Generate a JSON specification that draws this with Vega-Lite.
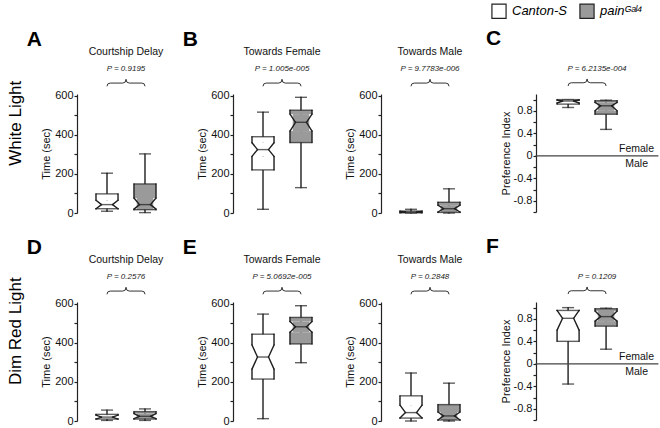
{
"$schema":"https://vega.github.io/schema/vega-lite/v6.json",
"padding":{"left":6,"top":3,"right":0,"bottom":0},
"datasets":{
"A":[{"g":"Canton-S","wlo":9,"q1":22,"nlo":22,"med":43,"nhi":65,"q3":98,"whi":204},{"g":"painᴳᵃˡ⁴","wlo":2,"q1":17,"nlo":20,"med":43,"nhi":77,"q3":149,"whi":303}],
"B1":[{"g":"Canton-S","wlo":19,"q1":221,"nlo":290,"med":325,"nhi":360,"q3":391,"whi":517},{"g":"painᴳᵃˡ⁴","wlo":130,"q1":361,"nlo":420,"med":465,"nhi":507,"q3":527,"whi":593}],
"B2":[{"g":"Canton-S","wlo":0,"q1":1,"nlo":2,"med":5,"nhi":8,"q3":10,"whi":19},{"g":"painᴳᵃˡ⁴","wlo":0,"q1":3,"nlo":5,"med":22,"nhi":40,"q3":55,"whi":124}],
"C":[{"g":"Canton-S","wlo":0.86,"q1":0.92,"nlo":0.94,"med":0.975,"nhi":0.99,"q3":1.0,"whi":1.0},{"g":"painᴳᵃˡ⁴","wlo":0.47,"q1":0.74,"nlo":0.8,"med":0.89,"nhi":0.95,"q3":0.98,"whi":0.99}],
"D":[{"g":"Canton-S","wlo":3,"q1":10,"nlo":10,"med":20,"nhi":30,"q3":34,"whi":56},{"g":"painᴳᵃˡ⁴","wlo":3,"q1":10,"nlo":12,"med":24,"nhi":38,"q3":48,"whi":62}],
"E1":[{"g":"Canton-S","wlo":12,"q1":215,"nlo":266,"med":328,"nhi":390,"q3":445,"whi":548},{"g":"painᴳᵃˡ⁴","wlo":299,"q1":395,"nlo":455,"med":483,"nhi":510,"q3":531,"whi":591}],
"E2":[{"g":"Canton-S","wlo":0,"q1":15,"nlo":15,"med":43,"nhi":81,"q3":129,"whi":246},{"g":"painᴳᵃˡ⁴","wlo":0,"q1":5,"nlo":5,"med":26,"nhi":46,"q3":84,"whi":194}],
"F":[{"g":"Canton-S","wlo":-0.36,"q1":0.4,"nlo":0.6,"med":0.81,"nhi":0.95,"q3":0.95,"whi":1.0},{"g":"painᴳᵃˡ⁴","wlo":0.26,"q1":0.67,"nlo":0.76,"med":0.84,"nhi":0.94,"q3":0.98,"whi":0.99}]
},
"vconcat":[
{"title":{"text":"White  Light","orient":"left","anchor":"middle","frame":"bounds","fontSize":17,"fontWeight":"normal","offset":2,"color":"#000"},
"spacing":7,
"hconcat":[
{"title":{"text":"A","anchor":"start","frame":"bounds","dx":-14,"fontSize":21,"fontWeight":"bold","offset":-3,"color":"#000"},
"hconcat":[
{"title":{"text":"Courtship Delay","subtitle":"P = 0.9195"},"width":98,"height":119,"data":{"name":"A"},
"resolve":{"axis":{"y":"independent"}},
"layer":[
{"encoding":{"x":{"field":"g","type":"nominal","scale":{"paddingInner":0.42,"paddingOuter":0.5},"axis":{"title":null,"labels":false,"ticks":false}}},
"layer":[
{"mark":"rule","encoding":{"y":{"field":"wlo","type":"quantitative","scale":{"domain":[0,610],"nice":false},"axis":{"title":"Time (sec)","values":[0,200,400,600],"tickCount":20,"labelOverlap":false}},"y2":{"field":"whi"}}},
{"mark":{"type":"tick","size":12},"encoding":{"y":{"field":"whi","type":"quantitative"}}},
{"mark":{"type":"tick","size":12},"encoding":{"y":{"field":"wlo","type":"quantitative"}}},
{"mark":"bar","encoding":{"y":{"field":"nhi","type":"quantitative"},"y2":{"field":"q3"},"fill":{"field":"g","type":"nominal","scale":{"range":["#ffffff","#9a9a9a"]},"legend":{"title":null}}}},
{"mark":"bar","encoding":{"y":{"field":"q1","type":"quantitative"},"y2":{"field":"nlo"},"fill":{"field":"g","type":"nominal","scale":{"range":["#ffffff","#9a9a9a"]},"legend":{"title":null}}}},
{"mark":{"type":"bar","width":{"band":0.75}},"encoding":{"y":{"field":"nlo","type":"quantitative"},"y2":{"field":"nhi"},"fill":{"field":"g","type":"nominal","scale":{"range":["#ffffff","#9a9a9a"]},"legend":{"title":null}}}},
{"mark":{"type":"tick","size":23},"encoding":{"y":{"field":"q3","type":"quantitative"}}},
{"mark":{"type":"tick","size":23},"encoding":{"y":{"field":"q1","type":"quantitative"}}},
{"mark":{"type":"tick","size":11},"encoding":{"y":{"field":"med","type":"quantitative"}}},
{"mark":"rule","encoding":{"x":{"field":"g","type":"nominal","bandPosition":0,"axis":null},"y":{"field":"q3","type":"quantitative"},"y2":{"field":"nhi"}}},
{"mark":"rule","encoding":{"x":{"field":"g","type":"nominal","bandPosition":1,"axis":null},"y":{"field":"q3","type":"quantitative"},"y2":{"field":"nhi"}}},
{"mark":"rule","encoding":{"x":{"field":"g","type":"nominal","bandPosition":0,"axis":null},"y":{"field":"nlo","type":"quantitative"},"y2":{"field":"q1"}}},
{"mark":"rule","encoding":{"x":{"field":"g","type":"nominal","bandPosition":1,"axis":null},"y":{"field":"nlo","type":"quantitative"},"y2":{"field":"q1"}}},
{"mark":"rule","encoding":{"x":{"field":"g","type":"nominal","bandPosition":0,"axis":null},"x2":{"field":"g","bandPosition":0.25},"y":{"field":"nhi","type":"quantitative"},"y2":{"field":"med"}}},
{"mark":"rule","encoding":{"x":{"field":"g","type":"nominal","bandPosition":0,"axis":null},"x2":{"field":"g","bandPosition":0.25},"y":{"field":"nlo","type":"quantitative"},"y2":{"field":"med"}}},
{"mark":"rule","encoding":{"x":{"field":"g","type":"nominal","bandPosition":1,"axis":null},"x2":{"field":"g","bandPosition":0.75},"y":{"field":"nhi","type":"quantitative"},"y2":{"field":"med"}}},
{"mark":"rule","encoding":{"x":{"field":"g","type":"nominal","bandPosition":1,"axis":null},"x2":{"field":"g","bandPosition":0.75},"y":{"field":"nlo","type":"quantitative"},"y2":{"field":"med"}}},
{"transform":[{"filter":"datum.g == 'Canton-S'"}],"mark":{"type":"point","shape":"M0,0.17 Q0,0 0.17,0 L0.83,0 Q1,0 1,-0.2 Q1,0 1.17,0 L1.83,0 Q2,0 2,0.17","size":1444,"filled":false,"color":"#333","strokeWidth":1,"opacity":1},"encoding":{"y":{"datum":666}}}
]},
{"transform":[{"filter":"datum.g == 'Canton-S'"}],"mark":{"type":"rule","opacity":0},"encoding":{"y":{"datum":0,"type":"quantitative","axis":{"orient":"left","values":[100,300,500],"tickCount":20,"labels":false,"domain":false,"title":null}}}}
]}
]},
{"title":{"text":"B","anchor":"start","frame":"bounds","dx":-14,"fontSize":21,"fontWeight":"bold","offset":-3,"color":"#000"},"spacing":13,
"hconcat":[
{"title":{"text":"Towards Female","subtitle":"P = 1.005e-005"},"width":98,"height":119,"data":{"name":"B1"},
"resolve":{"axis":{"y":"independent"}},
"layer":[
{"encoding":{"x":{"field":"g","type":"nominal","scale":{"paddingInner":0.42,"paddingOuter":0.5},"axis":{"title":null,"labels":false,"ticks":false}}},
"layer":[
{"mark":"rule","encoding":{"y":{"field":"wlo","type":"quantitative","scale":{"domain":[0,610],"nice":false},"axis":{"title":"Time (sec)","values":[0,200,400,600],"tickCount":20,"labelOverlap":false}},"y2":{"field":"whi"}}},
{"mark":{"type":"tick","size":12},"encoding":{"y":{"field":"whi","type":"quantitative"}}},
{"mark":{"type":"tick","size":12},"encoding":{"y":{"field":"wlo","type":"quantitative"}}},
{"mark":"bar","encoding":{"y":{"field":"nhi","type":"quantitative"},"y2":{"field":"q3"},"fill":{"field":"g","type":"nominal","scale":{"range":["#ffffff","#9a9a9a"]},"legend":{"title":null}}}},
{"mark":"bar","encoding":{"y":{"field":"q1","type":"quantitative"},"y2":{"field":"nlo"},"fill":{"field":"g","type":"nominal","scale":{"range":["#ffffff","#9a9a9a"]},"legend":{"title":null}}}},
{"mark":{"type":"bar","width":{"band":0.75}},"encoding":{"y":{"field":"nlo","type":"quantitative"},"y2":{"field":"nhi"},"fill":{"field":"g","type":"nominal","scale":{"range":["#ffffff","#9a9a9a"]},"legend":{"title":null}}}},
{"mark":{"type":"tick","size":23},"encoding":{"y":{"field":"q3","type":"quantitative"}}},
{"mark":{"type":"tick","size":23},"encoding":{"y":{"field":"q1","type":"quantitative"}}},
{"mark":{"type":"tick","size":11},"encoding":{"y":{"field":"med","type":"quantitative"}}},
{"mark":"rule","encoding":{"x":{"field":"g","type":"nominal","bandPosition":0,"axis":null},"y":{"field":"q3","type":"quantitative"},"y2":{"field":"nhi"}}},
{"mark":"rule","encoding":{"x":{"field":"g","type":"nominal","bandPosition":1,"axis":null},"y":{"field":"q3","type":"quantitative"},"y2":{"field":"nhi"}}},
{"mark":"rule","encoding":{"x":{"field":"g","type":"nominal","bandPosition":0,"axis":null},"y":{"field":"nlo","type":"quantitative"},"y2":{"field":"q1"}}},
{"mark":"rule","encoding":{"x":{"field":"g","type":"nominal","bandPosition":1,"axis":null},"y":{"field":"nlo","type":"quantitative"},"y2":{"field":"q1"}}},
{"mark":"rule","encoding":{"x":{"field":"g","type":"nominal","bandPosition":0,"axis":null},"x2":{"field":"g","bandPosition":0.25},"y":{"field":"nhi","type":"quantitative"},"y2":{"field":"med"}}},
{"mark":"rule","encoding":{"x":{"field":"g","type":"nominal","bandPosition":0,"axis":null},"x2":{"field":"g","bandPosition":0.25},"y":{"field":"nlo","type":"quantitative"},"y2":{"field":"med"}}},
{"mark":"rule","encoding":{"x":{"field":"g","type":"nominal","bandPosition":1,"axis":null},"x2":{"field":"g","bandPosition":0.75},"y":{"field":"nhi","type":"quantitative"},"y2":{"field":"med"}}},
{"mark":"rule","encoding":{"x":{"field":"g","type":"nominal","bandPosition":1,"axis":null},"x2":{"field":"g","bandPosition":0.75},"y":{"field":"nlo","type":"quantitative"},"y2":{"field":"med"}}},
{"transform":[{"filter":"datum.g == 'Canton-S'"}],"mark":{"type":"point","shape":"M0,0.17 Q0,0 0.17,0 L0.83,0 Q1,0 1,-0.2 Q1,0 1.17,0 L1.83,0 Q2,0 2,0.17","size":1444,"filled":false,"color":"#333","strokeWidth":1,"opacity":1},"encoding":{"y":{"datum":666}}}
]},
{"transform":[{"filter":"datum.g == 'Canton-S'"}],"mark":{"type":"rule","opacity":0},"encoding":{"y":{"datum":0,"type":"quantitative","axis":{"orient":"left","values":[100,300,500],"tickCount":20,"labels":false,"domain":false,"title":null}}}}
]},
{"title":{"text":"Towards Male","subtitle":"P = 9.7783e-006"},"width":98,"height":119,"data":{"name":"B2"},
"resolve":{"axis":{"y":"independent"}},
"layer":[
{"encoding":{"x":{"field":"g","type":"nominal","scale":{"paddingInner":0.42,"paddingOuter":0.5},"axis":{"title":null,"labels":false,"ticks":false}}},
"layer":[
{"mark":"rule","encoding":{"y":{"field":"wlo","type":"quantitative","scale":{"domain":[0,610],"nice":false},"axis":{"title":"Time (sec)","values":[0,200,400,600],"tickCount":20,"labelOverlap":false}},"y2":{"field":"whi"}}},
{"mark":{"type":"tick","size":12},"encoding":{"y":{"field":"whi","type":"quantitative"}}},
{"mark":{"type":"tick","size":12},"encoding":{"y":{"field":"wlo","type":"quantitative"}}},
{"mark":"bar","encoding":{"y":{"field":"nhi","type":"quantitative"},"y2":{"field":"q3"},"fill":{"field":"g","type":"nominal","scale":{"range":["#ffffff","#9a9a9a"]},"legend":{"title":null}}}},
{"mark":"bar","encoding":{"y":{"field":"q1","type":"quantitative"},"y2":{"field":"nlo"},"fill":{"field":"g","type":"nominal","scale":{"range":["#ffffff","#9a9a9a"]},"legend":{"title":null}}}},
{"mark":{"type":"bar","width":{"band":0.75}},"encoding":{"y":{"field":"nlo","type":"quantitative"},"y2":{"field":"nhi"},"fill":{"field":"g","type":"nominal","scale":{"range":["#ffffff","#9a9a9a"]},"legend":{"title":null}}}},
{"mark":{"type":"tick","size":23},"encoding":{"y":{"field":"q3","type":"quantitative"}}},
{"mark":{"type":"tick","size":23},"encoding":{"y":{"field":"q1","type":"quantitative"}}},
{"mark":{"type":"tick","size":11},"encoding":{"y":{"field":"med","type":"quantitative"}}},
{"mark":"rule","encoding":{"x":{"field":"g","type":"nominal","bandPosition":0,"axis":null},"y":{"field":"q3","type":"quantitative"},"y2":{"field":"nhi"}}},
{"mark":"rule","encoding":{"x":{"field":"g","type":"nominal","bandPosition":1,"axis":null},"y":{"field":"q3","type":"quantitative"},"y2":{"field":"nhi"}}},
{"mark":"rule","encoding":{"x":{"field":"g","type":"nominal","bandPosition":0,"axis":null},"y":{"field":"nlo","type":"quantitative"},"y2":{"field":"q1"}}},
{"mark":"rule","encoding":{"x":{"field":"g","type":"nominal","bandPosition":1,"axis":null},"y":{"field":"nlo","type":"quantitative"},"y2":{"field":"q1"}}},
{"mark":"rule","encoding":{"x":{"field":"g","type":"nominal","bandPosition":0,"axis":null},"x2":{"field":"g","bandPosition":0.25},"y":{"field":"nhi","type":"quantitative"},"y2":{"field":"med"}}},
{"mark":"rule","encoding":{"x":{"field":"g","type":"nominal","bandPosition":0,"axis":null},"x2":{"field":"g","bandPosition":0.25},"y":{"field":"nlo","type":"quantitative"},"y2":{"field":"med"}}},
{"mark":"rule","encoding":{"x":{"field":"g","type":"nominal","bandPosition":1,"axis":null},"x2":{"field":"g","bandPosition":0.75},"y":{"field":"nhi","type":"quantitative"},"y2":{"field":"med"}}},
{"mark":"rule","encoding":{"x":{"field":"g","type":"nominal","bandPosition":1,"axis":null},"x2":{"field":"g","bandPosition":0.75},"y":{"field":"nlo","type":"quantitative"},"y2":{"field":"med"}}},
{"transform":[{"filter":"datum.g == 'Canton-S'"}],"mark":{"type":"point","shape":"M0,0.17 Q0,0 0.17,0 L0.83,0 Q1,0 1,-0.2 Q1,0 1.17,0 L1.83,0 Q2,0 2,0.17","size":1444,"filled":false,"color":"#333","strokeWidth":1,"opacity":1},"encoding":{"y":{"datum":666}}}
]},
{"transform":[{"filter":"datum.g == 'Canton-S'"}],"mark":{"type":"rule","opacity":0},"encoding":{"y":{"datum":0,"type":"quantitative","axis":{"orient":"left","values":[100,300,500],"tickCount":20,"labels":false,"domain":false,"title":null}}}}
]}
]},
{"title":{"text":"C","anchor":"start","frame":"bounds","dx":-14,"fontSize":21,"fontWeight":"bold","offset":-3,"color":"#000"},
"hconcat":[
{"title":{"text":" ","subtitle":"P = 6.2135e-004"},"width":122,"height":118,"data":{"name":"C"},
"resolve":{"axis":{"y":"independent"}},
"layer":[
{"encoding":{"x":{"field":"g","type":"nominal","scale":{"paddingInner":0.42,"paddingOuter":0.816,"align":0.34},"axis":null}},
"layer":[
{"mark":"rule","encoding":{"y":{"field":"wlo","type":"quantitative","scale":{"domain":[-1,1.1],"nice":false},"axis":{"title":"Preference Index","titlePadding":2,"values":[-0.8,-0.4,0,0.4,0.8],"tickCount":20,"format":".1~f","labelOverlap":false}},"y2":{"field":"whi"}}},
{"mark":{"type":"tick","size":12},"encoding":{"y":{"field":"whi","type":"quantitative"}}},
{"mark":{"type":"tick","size":12},"encoding":{"y":{"field":"wlo","type":"quantitative"}}},
{"mark":"bar","encoding":{"y":{"field":"nhi","type":"quantitative"},"y2":{"field":"q3"},"fill":{"field":"g","type":"nominal","scale":{"range":["#ffffff","#9a9a9a"]},"legend":{"title":null}}}},
{"mark":"bar","encoding":{"y":{"field":"q1","type":"quantitative"},"y2":{"field":"nlo"},"fill":{"field":"g","type":"nominal","scale":{"range":["#ffffff","#9a9a9a"]},"legend":{"title":null}}}},
{"mark":{"type":"bar","width":{"band":0.75}},"encoding":{"y":{"field":"nlo","type":"quantitative"},"y2":{"field":"nhi"},"fill":{"field":"g","type":"nominal","scale":{"range":["#ffffff","#9a9a9a"]},"legend":{"title":null}}}},
{"mark":{"type":"tick","size":23},"encoding":{"y":{"field":"q3","type":"quantitative"}}},
{"mark":{"type":"tick","size":23},"encoding":{"y":{"field":"q1","type":"quantitative"}}},
{"mark":{"type":"tick","size":11},"encoding":{"y":{"field":"med","type":"quantitative"}}},
{"mark":"rule","encoding":{"x":{"field":"g","type":"nominal","bandPosition":0,"axis":null},"y":{"field":"q3","type":"quantitative"},"y2":{"field":"nhi"}}},
{"mark":"rule","encoding":{"x":{"field":"g","type":"nominal","bandPosition":1,"axis":null},"y":{"field":"q3","type":"quantitative"},"y2":{"field":"nhi"}}},
{"mark":"rule","encoding":{"x":{"field":"g","type":"nominal","bandPosition":0,"axis":null},"y":{"field":"nlo","type":"quantitative"},"y2":{"field":"q1"}}},
{"mark":"rule","encoding":{"x":{"field":"g","type":"nominal","bandPosition":1,"axis":null},"y":{"field":"nlo","type":"quantitative"},"y2":{"field":"q1"}}},
{"mark":"rule","encoding":{"x":{"field":"g","type":"nominal","bandPosition":0,"axis":null},"x2":{"field":"g","bandPosition":0.25},"y":{"field":"nhi","type":"quantitative"},"y2":{"field":"med"}}},
{"mark":"rule","encoding":{"x":{"field":"g","type":"nominal","bandPosition":0,"axis":null},"x2":{"field":"g","bandPosition":0.25},"y":{"field":"nlo","type":"quantitative"},"y2":{"field":"med"}}},
{"mark":"rule","encoding":{"x":{"field":"g","type":"nominal","bandPosition":1,"axis":null},"x2":{"field":"g","bandPosition":0.75},"y":{"field":"nhi","type":"quantitative"},"y2":{"field":"med"}}},
{"mark":"rule","encoding":{"x":{"field":"g","type":"nominal","bandPosition":1,"axis":null},"x2":{"field":"g","bandPosition":0.75},"y":{"field":"nlo","type":"quantitative"},"y2":{"field":"med"}}},
{"transform":[{"filter":"datum.g == 'Canton-S'"}],"mark":{"type":"point","shape":"M0,0.17 Q0,0 0.17,0 L0.83,0 Q1,0 1,-0.2 Q1,0 1.17,0 L1.83,0 Q2,0 2,0.17","size":1444,"filled":false,"color":"#333","strokeWidth":1,"opacity":1},"encoding":{"y":{"datum":1.3}}}
]},
{"transform":[{"filter":"datum.g == 'Canton-S'"}],"mark":{"type":"rule","opacity":0},"encoding":{"y":{"datum":0,"type":"quantitative","axis":{"orient":"left","values":[-1,-0.6,-0.2,0.2,0.6,1],"tickCount":20,"labels":false,"domain":false,"title":null}}}},
{"transform":[{"filter":"datum.g == 'Canton-S'"}],"mark":{"type":"rule","color":"#444","strokeWidth":1.2},"encoding":{"y":{"datum":0,"type":"quantitative","axis":null}}},
{"transform":[{"filter":"datum.g == 'Canton-S'"}],"mark":{"type":"text","align":"right","baseline":"bottom","dx":-4,"dy":-2,"fontSize":10.5,"color":"#111"},"encoding":{"x":{"value":"width"},"y":{"datum":0,"type":"quantitative","axis":null},"text":{"value":"Female"}}},
{"transform":[{"filter":"datum.g == 'Canton-S'"}],"mark":{"type":"text","align":"right","baseline":"top","dx":-10,"dy":3,"fontSize":10.5,"color":"#111"},"encoding":{"x":{"value":"width"},"y":{"datum":0,"type":"quantitative","axis":null},"text":{"value":"Male"}}}
]}
]}
]},
{"title":{"text":"Dim  Red  Light","orient":"left","anchor":"middle","frame":"bounds","fontSize":17,"fontWeight":"normal","offset":2,"color":"#000"},
"spacing":7,
"hconcat":[
{"title":{"text":"D","anchor":"start","frame":"bounds","dx":-14,"fontSize":21,"fontWeight":"bold","offset":-3,"color":"#000"},
"hconcat":[
{"title":{"text":"Courtship Delay","subtitle":"P = 0.2576"},"width":98,"height":119,"data":{"name":"D"},
"resolve":{"axis":{"y":"independent"}},
"layer":[
{"encoding":{"x":{"field":"g","type":"nominal","scale":{"paddingInner":0.42,"paddingOuter":0.5},"axis":{"title":null,"labels":false,"ticks":false}}},
"layer":[
{"mark":"rule","encoding":{"y":{"field":"wlo","type":"quantitative","scale":{"domain":[0,610],"nice":false},"axis":{"title":"Time (sec)","values":[0,200,400,600],"tickCount":20,"labelOverlap":false}},"y2":{"field":"whi"}}},
{"mark":{"type":"tick","size":12},"encoding":{"y":{"field":"whi","type":"quantitative"}}},
{"mark":{"type":"tick","size":12},"encoding":{"y":{"field":"wlo","type":"quantitative"}}},
{"mark":"bar","encoding":{"y":{"field":"nhi","type":"quantitative"},"y2":{"field":"q3"},"fill":{"field":"g","type":"nominal","scale":{"range":["#ffffff","#9a9a9a"]},"legend":{"title":null}}}},
{"mark":"bar","encoding":{"y":{"field":"q1","type":"quantitative"},"y2":{"field":"nlo"},"fill":{"field":"g","type":"nominal","scale":{"range":["#ffffff","#9a9a9a"]},"legend":{"title":null}}}},
{"mark":{"type":"bar","width":{"band":0.75}},"encoding":{"y":{"field":"nlo","type":"quantitative"},"y2":{"field":"nhi"},"fill":{"field":"g","type":"nominal","scale":{"range":["#ffffff","#9a9a9a"]},"legend":{"title":null}}}},
{"mark":{"type":"tick","size":23},"encoding":{"y":{"field":"q3","type":"quantitative"}}},
{"mark":{"type":"tick","size":23},"encoding":{"y":{"field":"q1","type":"quantitative"}}},
{"mark":{"type":"tick","size":11},"encoding":{"y":{"field":"med","type":"quantitative"}}},
{"mark":"rule","encoding":{"x":{"field":"g","type":"nominal","bandPosition":0,"axis":null},"y":{"field":"q3","type":"quantitative"},"y2":{"field":"nhi"}}},
{"mark":"rule","encoding":{"x":{"field":"g","type":"nominal","bandPosition":1,"axis":null},"y":{"field":"q3","type":"quantitative"},"y2":{"field":"nhi"}}},
{"mark":"rule","encoding":{"x":{"field":"g","type":"nominal","bandPosition":0,"axis":null},"y":{"field":"nlo","type":"quantitative"},"y2":{"field":"q1"}}},
{"mark":"rule","encoding":{"x":{"field":"g","type":"nominal","bandPosition":1,"axis":null},"y":{"field":"nlo","type":"quantitative"},"y2":{"field":"q1"}}},
{"mark":"rule","encoding":{"x":{"field":"g","type":"nominal","bandPosition":0,"axis":null},"x2":{"field":"g","bandPosition":0.25},"y":{"field":"nhi","type":"quantitative"},"y2":{"field":"med"}}},
{"mark":"rule","encoding":{"x":{"field":"g","type":"nominal","bandPosition":0,"axis":null},"x2":{"field":"g","bandPosition":0.25},"y":{"field":"nlo","type":"quantitative"},"y2":{"field":"med"}}},
{"mark":"rule","encoding":{"x":{"field":"g","type":"nominal","bandPosition":1,"axis":null},"x2":{"field":"g","bandPosition":0.75},"y":{"field":"nhi","type":"quantitative"},"y2":{"field":"med"}}},
{"mark":"rule","encoding":{"x":{"field":"g","type":"nominal","bandPosition":1,"axis":null},"x2":{"field":"g","bandPosition":0.75},"y":{"field":"nlo","type":"quantitative"},"y2":{"field":"med"}}},
{"transform":[{"filter":"datum.g == 'Canton-S'"}],"mark":{"type":"point","shape":"M0,0.17 Q0,0 0.17,0 L0.83,0 Q1,0 1,-0.2 Q1,0 1.17,0 L1.83,0 Q2,0 2,0.17","size":1444,"filled":false,"color":"#333","strokeWidth":1,"opacity":1},"encoding":{"y":{"datum":666}}}
]},
{"transform":[{"filter":"datum.g == 'Canton-S'"}],"mark":{"type":"rule","opacity":0},"encoding":{"y":{"datum":0,"type":"quantitative","axis":{"orient":"left","values":[100,300,500],"tickCount":20,"labels":false,"domain":false,"title":null}}}}
]}
]},
{"title":{"text":"E","anchor":"start","frame":"bounds","dx":-14,"fontSize":21,"fontWeight":"bold","offset":-3,"color":"#000"},"spacing":13,
"hconcat":[
{"title":{"text":"Towards Female","subtitle":"P = 5.0692e-005"},"width":98,"height":119,"data":{"name":"E1"},
"resolve":{"axis":{"y":"independent"}},
"layer":[
{"encoding":{"x":{"field":"g","type":"nominal","scale":{"paddingInner":0.42,"paddingOuter":0.5},"axis":{"title":null,"labels":false,"ticks":false}}},
"layer":[
{"mark":"rule","encoding":{"y":{"field":"wlo","type":"quantitative","scale":{"domain":[0,610],"nice":false},"axis":{"title":"Time (sec)","values":[0,200,400,600],"tickCount":20,"labelOverlap":false}},"y2":{"field":"whi"}}},
{"mark":{"type":"tick","size":12},"encoding":{"y":{"field":"whi","type":"quantitative"}}},
{"mark":{"type":"tick","size":12},"encoding":{"y":{"field":"wlo","type":"quantitative"}}},
{"mark":"bar","encoding":{"y":{"field":"nhi","type":"quantitative"},"y2":{"field":"q3"},"fill":{"field":"g","type":"nominal","scale":{"range":["#ffffff","#9a9a9a"]},"legend":{"title":null}}}},
{"mark":"bar","encoding":{"y":{"field":"q1","type":"quantitative"},"y2":{"field":"nlo"},"fill":{"field":"g","type":"nominal","scale":{"range":["#ffffff","#9a9a9a"]},"legend":{"title":null}}}},
{"mark":{"type":"bar","width":{"band":0.75}},"encoding":{"y":{"field":"nlo","type":"quantitative"},"y2":{"field":"nhi"},"fill":{"field":"g","type":"nominal","scale":{"range":["#ffffff","#9a9a9a"]},"legend":{"title":null}}}},
{"mark":{"type":"tick","size":23},"encoding":{"y":{"field":"q3","type":"quantitative"}}},
{"mark":{"type":"tick","size":23},"encoding":{"y":{"field":"q1","type":"quantitative"}}},
{"mark":{"type":"tick","size":11},"encoding":{"y":{"field":"med","type":"quantitative"}}},
{"mark":"rule","encoding":{"x":{"field":"g","type":"nominal","bandPosition":0,"axis":null},"y":{"field":"q3","type":"quantitative"},"y2":{"field":"nhi"}}},
{"mark":"rule","encoding":{"x":{"field":"g","type":"nominal","bandPosition":1,"axis":null},"y":{"field":"q3","type":"quantitative"},"y2":{"field":"nhi"}}},
{"mark":"rule","encoding":{"x":{"field":"g","type":"nominal","bandPosition":0,"axis":null},"y":{"field":"nlo","type":"quantitative"},"y2":{"field":"q1"}}},
{"mark":"rule","encoding":{"x":{"field":"g","type":"nominal","bandPosition":1,"axis":null},"y":{"field":"nlo","type":"quantitative"},"y2":{"field":"q1"}}},
{"mark":"rule","encoding":{"x":{"field":"g","type":"nominal","bandPosition":0,"axis":null},"x2":{"field":"g","bandPosition":0.25},"y":{"field":"nhi","type":"quantitative"},"y2":{"field":"med"}}},
{"mark":"rule","encoding":{"x":{"field":"g","type":"nominal","bandPosition":0,"axis":null},"x2":{"field":"g","bandPosition":0.25},"y":{"field":"nlo","type":"quantitative"},"y2":{"field":"med"}}},
{"mark":"rule","encoding":{"x":{"field":"g","type":"nominal","bandPosition":1,"axis":null},"x2":{"field":"g","bandPosition":0.75},"y":{"field":"nhi","type":"quantitative"},"y2":{"field":"med"}}},
{"mark":"rule","encoding":{"x":{"field":"g","type":"nominal","bandPosition":1,"axis":null},"x2":{"field":"g","bandPosition":0.75},"y":{"field":"nlo","type":"quantitative"},"y2":{"field":"med"}}},
{"transform":[{"filter":"datum.g == 'Canton-S'"}],"mark":{"type":"point","shape":"M0,0.17 Q0,0 0.17,0 L0.83,0 Q1,0 1,-0.2 Q1,0 1.17,0 L1.83,0 Q2,0 2,0.17","size":1444,"filled":false,"color":"#333","strokeWidth":1,"opacity":1},"encoding":{"y":{"datum":666}}}
]},
{"transform":[{"filter":"datum.g == 'Canton-S'"}],"mark":{"type":"rule","opacity":0},"encoding":{"y":{"datum":0,"type":"quantitative","axis":{"orient":"left","values":[100,300,500],"tickCount":20,"labels":false,"domain":false,"title":null}}}}
]},
{"title":{"text":"Towards Male","subtitle":"P = 0.2848"},"width":98,"height":119,"data":{"name":"E2"},
"resolve":{"axis":{"y":"independent"}},
"layer":[
{"encoding":{"x":{"field":"g","type":"nominal","scale":{"paddingInner":0.42,"paddingOuter":0.5},"axis":{"title":null,"labels":false,"ticks":false}}},
"layer":[
{"mark":"rule","encoding":{"y":{"field":"wlo","type":"quantitative","scale":{"domain":[0,610],"nice":false},"axis":{"title":"Time (sec)","values":[0,200,400,600],"tickCount":20,"labelOverlap":false}},"y2":{"field":"whi"}}},
{"mark":{"type":"tick","size":12},"encoding":{"y":{"field":"whi","type":"quantitative"}}},
{"mark":{"type":"tick","size":12},"encoding":{"y":{"field":"wlo","type":"quantitative"}}},
{"mark":"bar","encoding":{"y":{"field":"nhi","type":"quantitative"},"y2":{"field":"q3"},"fill":{"field":"g","type":"nominal","scale":{"range":["#ffffff","#9a9a9a"]},"legend":{"title":null}}}},
{"mark":"bar","encoding":{"y":{"field":"q1","type":"quantitative"},"y2":{"field":"nlo"},"fill":{"field":"g","type":"nominal","scale":{"range":["#ffffff","#9a9a9a"]},"legend":{"title":null}}}},
{"mark":{"type":"bar","width":{"band":0.75}},"encoding":{"y":{"field":"nlo","type":"quantitative"},"y2":{"field":"nhi"},"fill":{"field":"g","type":"nominal","scale":{"range":["#ffffff","#9a9a9a"]},"legend":{"title":null}}}},
{"mark":{"type":"tick","size":23},"encoding":{"y":{"field":"q3","type":"quantitative"}}},
{"mark":{"type":"tick","size":23},"encoding":{"y":{"field":"q1","type":"quantitative"}}},
{"mark":{"type":"tick","size":11},"encoding":{"y":{"field":"med","type":"quantitative"}}},
{"mark":"rule","encoding":{"x":{"field":"g","type":"nominal","bandPosition":0,"axis":null},"y":{"field":"q3","type":"quantitative"},"y2":{"field":"nhi"}}},
{"mark":"rule","encoding":{"x":{"field":"g","type":"nominal","bandPosition":1,"axis":null},"y":{"field":"q3","type":"quantitative"},"y2":{"field":"nhi"}}},
{"mark":"rule","encoding":{"x":{"field":"g","type":"nominal","bandPosition":0,"axis":null},"y":{"field":"nlo","type":"quantitative"},"y2":{"field":"q1"}}},
{"mark":"rule","encoding":{"x":{"field":"g","type":"nominal","bandPosition":1,"axis":null},"y":{"field":"nlo","type":"quantitative"},"y2":{"field":"q1"}}},
{"mark":"rule","encoding":{"x":{"field":"g","type":"nominal","bandPosition":0,"axis":null},"x2":{"field":"g","bandPosition":0.25},"y":{"field":"nhi","type":"quantitative"},"y2":{"field":"med"}}},
{"mark":"rule","encoding":{"x":{"field":"g","type":"nominal","bandPosition":0,"axis":null},"x2":{"field":"g","bandPosition":0.25},"y":{"field":"nlo","type":"quantitative"},"y2":{"field":"med"}}},
{"mark":"rule","encoding":{"x":{"field":"g","type":"nominal","bandPosition":1,"axis":null},"x2":{"field":"g","bandPosition":0.75},"y":{"field":"nhi","type":"quantitative"},"y2":{"field":"med"}}},
{"mark":"rule","encoding":{"x":{"field":"g","type":"nominal","bandPosition":1,"axis":null},"x2":{"field":"g","bandPosition":0.75},"y":{"field":"nlo","type":"quantitative"},"y2":{"field":"med"}}},
{"transform":[{"filter":"datum.g == 'Canton-S'"}],"mark":{"type":"point","shape":"M0,0.17 Q0,0 0.17,0 L0.83,0 Q1,0 1,-0.2 Q1,0 1.17,0 L1.83,0 Q2,0 2,0.17","size":1444,"filled":false,"color":"#333","strokeWidth":1,"opacity":1},"encoding":{"y":{"datum":666}}}
]},
{"transform":[{"filter":"datum.g == 'Canton-S'"}],"mark":{"type":"rule","opacity":0},"encoding":{"y":{"datum":0,"type":"quantitative","axis":{"orient":"left","values":[100,300,500],"tickCount":20,"labels":false,"domain":false,"title":null}}}}
]}
]},
{"title":{"text":"F","anchor":"start","frame":"bounds","dx":-14,"fontSize":21,"fontWeight":"bold","offset":-3,"color":"#000"},
"hconcat":[
{"title":{"text":" ","subtitle":"P = 0.1209"},"width":122,"height":118,"data":{"name":"F"},
"resolve":{"axis":{"y":"independent"}},
"layer":[
{"encoding":{"x":{"field":"g","type":"nominal","scale":{"paddingInner":0.42,"paddingOuter":0.816,"align":0.34},"axis":null}},
"layer":[
{"mark":"rule","encoding":{"y":{"field":"wlo","type":"quantitative","scale":{"domain":[-1,1.1],"nice":false},"axis":{"title":"Preference Index","titlePadding":2,"values":[-0.8,-0.4,0,0.4,0.8],"tickCount":20,"format":".1~f","labelOverlap":false}},"y2":{"field":"whi"}}},
{"mark":{"type":"tick","size":12},"encoding":{"y":{"field":"whi","type":"quantitative"}}},
{"mark":{"type":"tick","size":12},"encoding":{"y":{"field":"wlo","type":"quantitative"}}},
{"mark":"bar","encoding":{"y":{"field":"nhi","type":"quantitative"},"y2":{"field":"q3"},"fill":{"field":"g","type":"nominal","scale":{"range":["#ffffff","#9a9a9a"]},"legend":{"title":null}}}},
{"mark":"bar","encoding":{"y":{"field":"q1","type":"quantitative"},"y2":{"field":"nlo"},"fill":{"field":"g","type":"nominal","scale":{"range":["#ffffff","#9a9a9a"]},"legend":{"title":null}}}},
{"mark":{"type":"bar","width":{"band":0.75}},"encoding":{"y":{"field":"nlo","type":"quantitative"},"y2":{"field":"nhi"},"fill":{"field":"g","type":"nominal","scale":{"range":["#ffffff","#9a9a9a"]},"legend":{"title":null}}}},
{"mark":{"type":"tick","size":23},"encoding":{"y":{"field":"q3","type":"quantitative"}}},
{"mark":{"type":"tick","size":23},"encoding":{"y":{"field":"q1","type":"quantitative"}}},
{"mark":{"type":"tick","size":11},"encoding":{"y":{"field":"med","type":"quantitative"}}},
{"mark":"rule","encoding":{"x":{"field":"g","type":"nominal","bandPosition":0,"axis":null},"y":{"field":"q3","type":"quantitative"},"y2":{"field":"nhi"}}},
{"mark":"rule","encoding":{"x":{"field":"g","type":"nominal","bandPosition":1,"axis":null},"y":{"field":"q3","type":"quantitative"},"y2":{"field":"nhi"}}},
{"mark":"rule","encoding":{"x":{"field":"g","type":"nominal","bandPosition":0,"axis":null},"y":{"field":"nlo","type":"quantitative"},"y2":{"field":"q1"}}},
{"mark":"rule","encoding":{"x":{"field":"g","type":"nominal","bandPosition":1,"axis":null},"y":{"field":"nlo","type":"quantitative"},"y2":{"field":"q1"}}},
{"mark":"rule","encoding":{"x":{"field":"g","type":"nominal","bandPosition":0,"axis":null},"x2":{"field":"g","bandPosition":0.25},"y":{"field":"nhi","type":"quantitative"},"y2":{"field":"med"}}},
{"mark":"rule","encoding":{"x":{"field":"g","type":"nominal","bandPosition":0,"axis":null},"x2":{"field":"g","bandPosition":0.25},"y":{"field":"nlo","type":"quantitative"},"y2":{"field":"med"}}},
{"mark":"rule","encoding":{"x":{"field":"g","type":"nominal","bandPosition":1,"axis":null},"x2":{"field":"g","bandPosition":0.75},"y":{"field":"nhi","type":"quantitative"},"y2":{"field":"med"}}},
{"mark":"rule","encoding":{"x":{"field":"g","type":"nominal","bandPosition":1,"axis":null},"x2":{"field":"g","bandPosition":0.75},"y":{"field":"nlo","type":"quantitative"},"y2":{"field":"med"}}},
{"transform":[{"filter":"datum.g == 'Canton-S'"}],"mark":{"type":"point","shape":"M0,0.17 Q0,0 0.17,0 L0.83,0 Q1,0 1,-0.2 Q1,0 1.17,0 L1.83,0 Q2,0 2,0.17","size":1444,"filled":false,"color":"#333","strokeWidth":1,"opacity":1},"encoding":{"y":{"datum":1.3}}}
]},
{"transform":[{"filter":"datum.g == 'Canton-S'"}],"mark":{"type":"rule","opacity":0},"encoding":{"y":{"datum":0,"type":"quantitative","axis":{"orient":"left","values":[-1,-0.6,-0.2,0.2,0.6,1],"tickCount":20,"labels":false,"domain":false,"title":null}}}},
{"transform":[{"filter":"datum.g == 'Canton-S'"}],"mark":{"type":"rule","color":"#444","strokeWidth":1.2},"encoding":{"y":{"datum":0,"type":"quantitative","axis":null}}},
{"transform":[{"filter":"datum.g == 'Canton-S'"}],"mark":{"type":"text","align":"right","baseline":"bottom","dx":-4,"dy":-2,"fontSize":10.5,"color":"#111"},"encoding":{"x":{"value":"width"},"y":{"datum":0,"type":"quantitative","axis":null},"text":{"value":"Female"}}},
{"transform":[{"filter":"datum.g == 'Canton-S'"}],"mark":{"type":"text","align":"right","baseline":"top","dx":-10,"dy":3,"fontSize":10.5,"color":"#111"},"encoding":{"x":{"value":"width"},"y":{"datum":0,"type":"quantitative","axis":null},"text":{"value":"Male"}}}
]}
]}
]}
],
"spacing":18,
"config":{
"font":"Liberation Sans",
"locale":{"number":{"decimal":".","thousands":",","grouping":[3],"currency":["$",""],"minus":"-"}},
"view":{"stroke":null},
"axis":{"domainColor":"#222","domainWidth":1.2,"tickColor":"#222","tickWidth":1.2,"tickSize":3,"labelFontSize":11,"labelColor":"#111","labelPadding":1,"labelOverlap":false,"labelFlush":false,"titleFontSize":11,"titleFontWeight":"normal","titleColor":"#111","titlePadding":3,"grid":false},
"title":{"fontSize":10.5,"fontWeight":"normal","color":"#111","subtitleFontSize":8,"subtitleFontStyle":"italic","subtitleColor":"#222","subtitlePadding":8,"offset":0,"anchor":"middle","frame":"group"},
"rule":{"color":"#1e1e1e","strokeWidth":1.4,"strokeCap":"round"},
"tick":{"color":"#1e1e1e","thickness":1.4},
"legend":{"orient":"none","legendX":414,"legendY":-91,"direction":"horizontal","symbolType":"square","symbolSize":200,"symbolStrokeColor":"#222","symbolStrokeWidth":1.2,"labelFontSize":13,"labelFontStyle":"italic","labelColor":"#000","labelOffset":5,"columnPadding":10,"padding":0}
}
}
